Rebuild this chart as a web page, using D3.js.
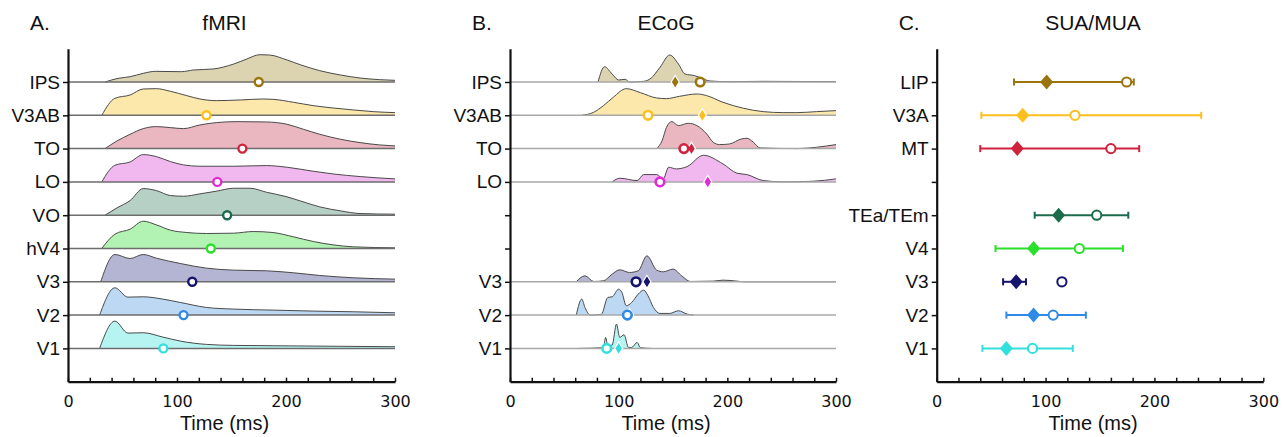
<!DOCTYPE html>
<html>
<head>
<meta charset="utf-8">
<script src="https://cdn.jsdelivr.net/npm/d3@7"></script>
<style>
  body { margin: 0; background: #fff; }
  svg { display: block; }
  text { font-family: "Liberation Sans", Arial, sans-serif; fill: #111; }
</style>
</head>
<body>
<script>
// row index 1..9 from bottom; colours are shared per row across panels
var rowColors = [null, "#33dfdc", "#2e8ae6", "#14146e", "#2ae02a", "#1b6b4c", "#df2ad6", "#d0213d", "#fcbf1e", "#9a740c"];
var rowFills  = [null, "#b6f4f1", "#bcd8f3", "#b4b4d3", "#b2f2b2", "#b7d0c6", "#f0b8ee", "#eab7c1", "#fde8ab", "#dcd3b1"];

// A. fMRI ridges: [time ms, height in rows]
var fmriLabels = ["", "V1", "V2", "V3", "hV4", "VO", "LO", "TO", "V3AB", "IPS"];
var fmriV1 = [[29,0],[43,.82],[55,.46],[69,.47],[87,.34],[103,.22],[127,.12],[152,.09],[188,.08],[225,.07],[300,.05]];
var fmriV2 = [[29,0],[43,.82],[55,.54],[69,.55],[87,.48],[103,.38],[127,.23],[152,.18],[188,.15],[225,.12],[262,.10],[300,.07]];
var fmriV3 = [[30,0],[43,.82],[57,.70],[69,.82],[81,.71],[103,.55],[127,.41],[152,.35],[182,.33],[207,.27],[231,.19],[262,.12],[300,.08]];
var fmriHV4 = [[31,0],[43,.43],[57,.58],[69,.82],[81,.71],[94,.55],[109,.48],[127,.45],[152,.46],[170,.51],[188,.48],[207,.35],[225,.21],[243,.11],[262,.05],[300,.02]];
var fmriVO = [[34,0],[45,.22],[57,.44],[69,.80],[81,.74],[94,.59],[106,.57],[121,.64],[136,.72],[152,.81],[167,.81],[182,.69],[200,.56],[213,.43],[231,.25],[250,.13],[268,.05],[300,.03]];
var fmriLO = [[31,0],[43,.50],[57,.60],[69,.82],[81,.76],[94,.61],[106,.51],[121,.47],[152,.47],[182,.49],[201,.44],[225,.32],[243,.24],[268,.16],[300,.09]];
var fmriTO = [[34,0],[45,.23],[57,.43],[69,.60],[81,.66],[94,.63],[106,.60],[121,.71],[136,.78],[155,.81],[182,.80],[201,.73],[216,.58],[231,.43],[250,.28],[268,.18],[286,.11],[300,.08]];
var fmriV3AB = [[31,0],[43,.51],[57,.61],[69,.79],[81,.80],[94,.72],[109,.59],[121,.49],[136,.44],[158,.46],[179,.49],[188,.48],[207,.39],[225,.29],[243,.22],[262,.16],[280,.11],[300,.08]];
var fmriIPS = [[34,0],[46,.11],[57,.16],[69,.26],[80,.32],[104,.31],[115,.36],[133,.39],[152,.54],[164,.69],[176,.82],[185,.81],[201,.66],[213,.52],[231,.34],[250,.21],[268,.12],[286,.07],[300,.05]];
var fmriCircle = [null, 87.5, 106, 114, 131, 146, 137, 160, 127, 175];

// B. ECoG ridges
var ecogLabels = ["", "V1", "V2", "V3", "", "", "LO", "TO", "V3AB", "IPS"];
var ecogV1 = [[63,0],[86,.02],[88,.33],[90,.08],[94,.1],[98,.73],[101,.33],[105,.41],[109,.03],[112,.03],[117,.18],[120,.02],[130,0]];
var ecogV2 = [[61,0],[66,.48],[69,.23],[74,0],[84,.02],[90,.53],[94,.55],[100,.78],[103,.68],[107,.28],[112,.38],[118,.63],[123,.75],[127,.58],[132,.23],[138,.05],[147,.05],[155,.13],[163,.03],[169,0]];
var ecogV3 = [[61,0],[69,.18],[77,.01],[86,.03],[94,.23],[101,.36],[110,.28],[118,.33],[126,.78],[135,.35],[141,.30],[150,.38],[158,.18],[166,.01],[187,.02],[196,.05],[209,.02],[215,0],[300,0]];
var ecogLO = [[94,0],[101,.11],[117,.04],[123,.22],[135,.22],[141,.09],[146,.44],[153,.39],[163,.46],[178,.80],[196,.54],[209,.26],[218,.22],[233,.04],[252,0],[279,.02],[300,.09]];
var ecogTO = [[135,0],[140,.24],[144,.64],[149,.81],[155,.69],[164,.76],[172,.69],[181,.44],[187,.19],[193,.12],[202,.14],[213,.29],[218,.31],[224,.19],[230,.02],[264,0],[282,.04],[300,.12]];
var ecogV3AB = [[66,0],[77,.09],[86,.29],[95,.54],[107,.80],[120,.68],[135,.52],[144,.50],[156,.57],[172,.64],[181,.59],[196,.39],[215,.21],[233,.11],[252,.08],[264,.08],[282,.11],[300,.14]];
var ecogIPS = [[81,0],[87,.46],[94,.24],[100,.06],[106,.08],[110,0],[123,.02],[130,.12],[138,.44],[147,.81],[155,.54],[161,.24],[170,.19],[176,.12],[184,.03],[202,.01],[233,.02],[300,.01]];
var ecogCircle = [null, 89, 108, 116, null, null, 138, 160, 127, 175];
var ecogDiamond = [null, 100, 110, 126, null, null, 182, 167, 177, 152];

// C. SUA/MUA latency ranges
var suaLabels = ["", "V1", "V2", "V3", "V4", "TEa/TEm", "", "MT", "V3A", "LIP"];
var suaLow = [null, 42, 64, 61, 54, 90, null, 40, 41, 71];
var suaHigh = [null, 125, 137, 82, 171, 176, null, 186, 243, 181];
var suaDiamond = [null, 64, 89, 73, 89, 112, null, 74, 79, 101];
var suaCircle = [null, 88, 107, 115, 131, 147, null, 160, 127, 174.5];

var xTicks = [0, 100, 200, 300];

var W = 1283, H = 437;
var yTop = 48.7, yBot = 381.7;

var svg = d3.select("body").append("svg")
  .attr("width", W)
  .attr("height", H);

var y = d3.scaleLinear().domain([0, 10]).range([yBot, yTop]);
var rowH = y(0) - y(1);

function diamondPath(w, h) {
  return "M0," + (-h) + "L" + w + ",0L0," + h + "L" + (-w) + ",0Z";
}

function drawAxes(g, x, labels, letter, title) {
  var xAxis = d3.axisBottom(x)
    .tickValues(d3.range(0, 301, 20))
    .tickSizeInner(-4)
    .tickSizeOuter(0)
    .tickPadding(14)
    .tickFormat(function (d) { return xTicks.indexOf(d) >= 0 ? d : ""; });
  var gx = g.append("g")
    .attr("transform", "translate(0," + yBot + ")")
    .call(xAxis);
  gx.select(".domain").attr("stroke", "#111").attr("stroke-width", 2.2);
  gx.selectAll(".tick line").attr("stroke", "#111").attr("stroke-width", 1.5);
  gx.selectAll(".tick text")
    .style("font-family", "'DejaVu Sans', sans-serif")
    .attr("font-size", 16)
    .attr("fill", "#111");

  var yAxis = d3.axisLeft(y)
    .tickValues(d3.range(1, 10))
    .tickSizeInner(5)
    .tickSizeOuter(0)
    .tickPadding(3)
    .tickFormat(function (d) { return labels[d]; });
  var gy = g.append("g")
    .attr("transform", "translate(" + x(0) + ",0)")
    .call(yAxis);
  gy.select(".domain").attr("stroke", "#111").attr("stroke-width", 2.2);
  gy.selectAll(".tick line").attr("stroke", "#111").attr("stroke-width", 1.5);
  gy.selectAll(".tick text")
    .style("font-family", "'Liberation Sans', Arial, sans-serif")
    .attr("font-size", 19)
    .attr("fill", "#111");

  var cx = (x(0) + x(300)) / 2 - 7;
  g.append("text")
    .attr("x", cx).attr("y", 430)
    .attr("text-anchor", "middle")
    .attr("font-size", 20)
    .text("Time (ms)");
  g.append("text")
    .attr("x", cx).attr("y", 30)
    .attr("text-anchor", "middle")
    .attr("font-size", 21)
    .text(title);
  g.append("text")
    .attr("x", x(0) - 38).attr("y", 30)
    .attr("font-size", 21)
    .text(letter);
}

function drawRidges(g, x, ridges, baseColor) {
  ridges.forEach(function (pts, row) {
    if (!pts) return;
    var base = y(row);
    var area = d3.area()
      .x(function (d) { return x(d[0]); })
      .y0(base)
      .y1(function (d) { return base - d[1] * rowH; })
      .curve(d3.curveMonotoneX);
    var line = area.lineY1();
    g.append("path")
      .attr("d", area(pts))
      .attr("fill", rowFills[row]);
    g.append("path")
      .attr("d", line(pts))
      .attr("fill", "none")
      .attr("stroke", "#4a4a4a")
      .attr("stroke-width", 1);
  });
  ridges.forEach(function (pts, row) {
    if (!pts) return;
    g.append("line")
      .attr("x1", x(0)).attr("x2", x(300))
      .attr("y1", y(row)).attr("y2", y(row))
      .attr("stroke", baseColor)
      .attr("stroke-width", 1.5);
  });
}

// ---- A. fMRI ----
var xA = d3.scaleLinear().domain([0, 300]).range([68, 395]);
var gA = svg.append("g");
var fmriRidges = [null, fmriV1, fmriV2, fmriV3, fmriHV4, fmriVO, fmriLO, fmriTO, fmriV3AB, fmriIPS];
drawRidges(gA, xA, fmriRidges, "#6d6d6d");
fmriCircle.forEach(function (t, row) {
  if (t == null) return;
  gA.append("circle")
    .attr("cx", xA(t)).attr("cy", y(row))
    .attr("r", 4)
    .attr("fill", "#fff")
    .attr("stroke", rowColors[row])
    .attr("stroke-width", 2.4);
});
drawAxes(gA, xA, fmriLabels, "A.", "fMRI");

// ---- B. ECoG ----
var xB = d3.scaleLinear().domain([0, 300]).range([510, 836]);
var gB = svg.append("g");
var ecogRidges = [null, ecogV1, ecogV2, ecogV3, null, null, ecogLO, ecogTO, ecogV3AB, ecogIPS];
drawRidges(gB, xB, ecogRidges, "#a8a8a8");
ecogDiamond.forEach(function (t, row) {
  if (t == null) return;
  gB.append("path")
    .attr("d", diamondPath(4, 6.5))
    .attr("transform", "translate(" + xB(t) + "," + y(row) + ")")
    .attr("fill", rowColors[row])
    .attr("stroke", "#fff")
    .attr("stroke-width", 1.2);
});
ecogCircle.forEach(function (t, row) {
  if (t == null) return;
  gB.append("circle")
    .attr("cx", xB(t)).attr("cy", y(row))
    .attr("r", 4.3)
    .attr("fill", "#fff")
    .attr("stroke", rowColors[row])
    .attr("stroke-width", 2.6);
});
drawAxes(gB, xB, ecogLabels, "B.", "ECoG");

// ---- C. SUA/MUA ----
var xC = d3.scaleLinear().domain([0, 300]).range([936.7, 1263.3]);
var gC = svg.append("g");
suaLow.forEach(function (lo, row) {
  if (lo == null) return;
  var cy = y(row), col = rowColors[row];
  gC.append("line")
    .attr("x1", xC(lo)).attr("x2", xC(suaHigh[row]))
    .attr("y1", cy).attr("y2", cy)
    .attr("stroke", col).attr("stroke-width", 2);
  [lo, suaHigh[row]].forEach(function (t) {
    gC.append("line")
      .attr("x1", xC(t)).attr("x2", xC(t))
      .attr("y1", cy - 3.5).attr("y2", cy + 3.5)
      .attr("stroke", col).attr("stroke-width", 2);
  });
  gC.append("circle")
    .attr("cx", xC(suaCircle[row])).attr("cy", cy)
    .attr("r", 4.6)
    .attr("fill", "#fff")
    .attr("stroke", col)
    .attr("stroke-width", 2);
  gC.append("path")
    .attr("d", diamondPath(6.5, 7.5))
    .attr("transform", "translate(" + xC(suaDiamond[row]) + "," + cy + ")")
    .attr("fill", col);
});
drawAxes(gC, xC, suaLabels, "C.", "SUA/MUA");
</script>
</body>
</html>
